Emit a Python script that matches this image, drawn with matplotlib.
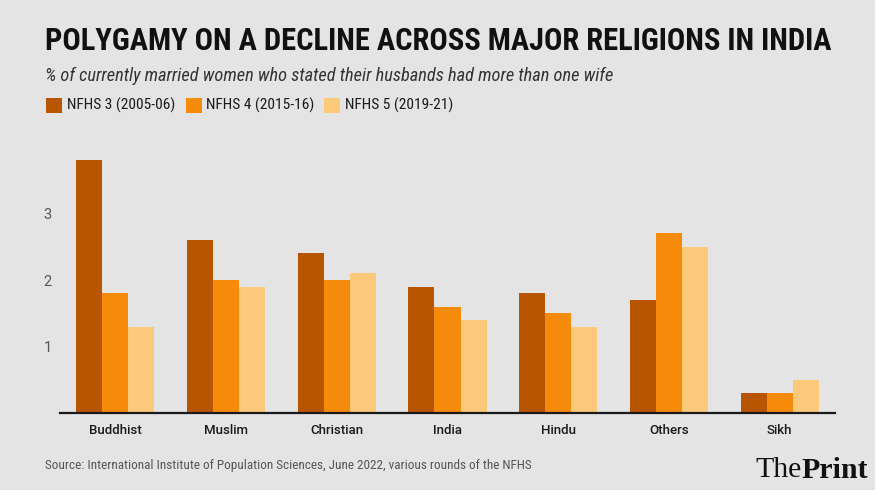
import matplotlib
matplotlib.use("Agg")
import matplotlib.pyplot as plt
from matplotlib import font_manager as fm
from matplotlib.patches import Rectangle
import numpy as np

categories = ["Buddhist", "Muslim", "Christian", "India", "Hindu", "Others", "Sikh"]
nfhs3 = [3.8, 2.6, 2.4, 1.9, 1.8, 1.7, 0.3]
nfhs4 = [1.8, 2.0, 2.0, 1.6, 1.5, 2.7, 0.3]
nfhs5 = [1.3, 1.9, 2.1, 1.4, 1.3, 2.5, 0.5]
series_names = ["NFHS 3 (2005-06)", "NFHS 4 (2015-16)", "NFHS 5 (2019-21)"]
colors = ["#b85500", "#f68b0b", "#fcc87a"]
yticks = [1, 2, 3]

BG = "#e4e4e4"
W, H = 880, 495

# pick a narrow font if there is one, the title and legend are condensed
names = {f.name for f in fm.fontManager.ttflist}
cond_kw = {"family": "Roboto"}
for n in ["Roboto Condensed", "Liberation Sans Narrow", "Open Sans Condensed", "DejaVu Sans Condensed"]:
    if n in names:
        cond_kw = {"family": n}
        break
else:
    if any(f.name == "DejaVu Sans" and f.stretch == "condensed" for f in fm.fontManager.ttflist):
        cond_kw = {"family": "DejaVu Sans", "fontstretch": "condensed"}

fig = plt.figure(figsize=(W / 100, H / 100), dpi=100, facecolor="white")
fig.patches.append(Rectangle((0, 5 / H), 875 / W, 1 - 5 / H, transform=fig.transFigure,
                             facecolor=BG, edgecolor="none", zorder=-10))

ax = fig.add_axes([60 / W, 82 / H, 775 / W, 266 / H])
ax.set_facecolor("none")

x = np.arange(len(categories))
w = 0.235
for i, (vals, c, lab) in enumerate(zip([nfhs3, nfhs4, nfhs5], colors, series_names)):
    ax.bar(x + (i - 1) * w, vals, width=w, color=c, label=lab, zorder=2)

ax.set_xlim(-0.5, len(categories) - 0.5)
ax.set_ylim(0, 4.0)
ax.set_yticks(yticks)
ax.set_yticklabels([str(t) for t in yticks], family="Roboto", fontsize=10.5, color="#555555")
ax.set_xticks(x)
ax.set_xticklabels(categories, family="Roboto", fontsize=9.5, fontweight="medium", color="#1a1a1a")
ax.tick_params(axis="both", length=0)
ax.tick_params(axis="y", pad=6)
ax.tick_params(axis="x", pad=8)
for s in ["top", "right", "left"]:
    ax.spines[s].set_visible(False)
ax.spines["bottom"].set_color("#1a1a1a")
ax.spines["bottom"].set_linewidth(1.6)

renderer = fig.canvas.get_renderer()


def fit(t, width_px):
    bb = t.get_window_extent(renderer)
    t.set_fontsize(t.get_fontsize() * width_px / bb.width)
    return t


def px(xp, yp):
    return xp / W, 1 - yp / H


# title, subtitle
fit(fig.text(*px(45, 41), "POLYGAMY ON A DECLINE ACROSS MAJOR RELIGIONS IN INDIA",
             fontsize=24, fontweight="bold", color="#111111", va="center", ha="left", **cond_kw), 790)
fit(fig.text(*px(45, 76), "% of currently married women who stated their husbands had more than one wife",
             fontsize=12, style="italic", color="#333333", va="center", ha="left", **cond_kw), 565)

# legend
sq_x = [46, 186, 324]
txt_x = [67, 206, 345]
txt_w = [109, 109, 109]
for sx, tx, tw, c, lab in zip(sq_x, txt_x, txt_w, colors, series_names):
    fig.patches.append(Rectangle(px(sx, 113), 16 / W, 15 / H, transform=fig.transFigure,
                                 facecolor=c, edgecolor="none"))
    fit(fig.text(*px(tx, 105), lab, fontsize=10.5, color="#1a1a1a", va="center", ha="left", **cond_kw), tw)

# source
fit(fig.text(*px(45, 465), "Source: International Institute of Population Sciences, June 2022, various rounds of the NFHS",
             fontsize=10, color="#555555", va="center", ha="left", **cond_kw), 485)

# logo
lsize = 19
t1 = fig.text(*px(755, 470), "The", fontsize=lsize, color="#111111", va="center", ha="left",
              family="Liberation Serif")
bb = t1.get_window_extent(renderer)
t2 = fig.text(bb.x1 / W, 1 - 470 / H, "Print", fontsize=lsize, fontweight="bold", color="#111111",
              va="center", ha="left", family="Liberation Serif")
total = t2.get_window_extent(renderer).x1 - bb.x0
lsize = lsize * 113 / total
t1.set_fontsize(lsize)
t2.set_fontsize(lsize)
t2.set_x(t1.get_window_extent(renderer).x1 / W)

fig.savefig("out.png", dpi=100, facecolor=fig.get_facecolor())
